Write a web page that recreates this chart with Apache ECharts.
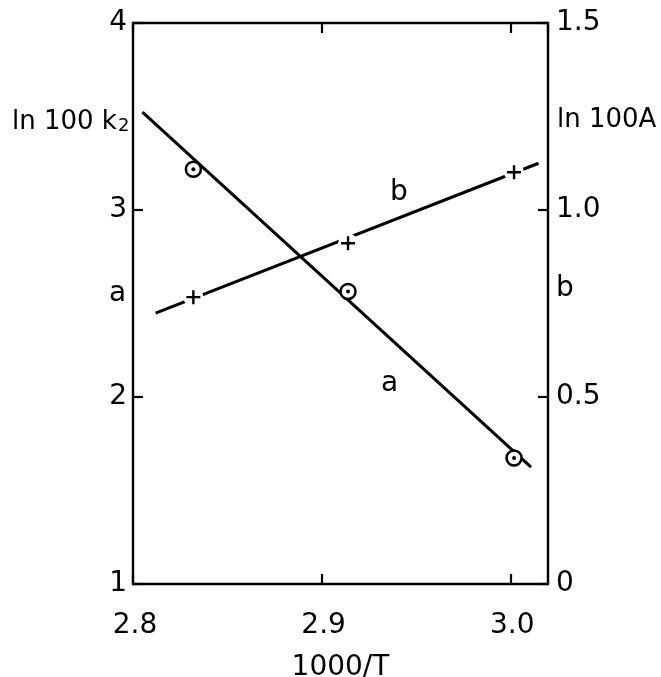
<!DOCTYPE html>
<html>
<head>
<meta charset="utf-8">
<script src="https://cdn.jsdelivr.net/npm/echarts@6/dist/echarts.min.js"></script>
<style>
  html, body { margin: 0; padding: 0; background: #fff; }
  #chart { width: 661px; height: 677px; }
</style>
</head>
<body>
<div id="chart"></div>
<script>
// Measured points: 1000/T against ln 100 k2 (curve a, left axis) and ln 100A (curve b, right axis)
const invT = [2.832, 2.914, 3.002];
const lnK2 = [3.218, 2.564, 1.674];
const lnA = [0.767, 0.911, 1.101];

// Straight-line fits drawn through each set
const fitAX = [2.805, 3.011];
const fitAY = [3.523, 1.625];
const fitBX = [2.812, 3.015];
const fitBY = [0.724, 1.125];

// Axis ranges
const xRange = [2.8, 3.02];
const leftRange = [1, 4];
const rightRange = [0, 1.5];

const FONT = 'DejaVu Sans';
const INK = '#000';
const SIZE = 28;

const pairs = (xs, ys) => xs.map((x, i) => [x, ys[i]]);

const chart = echarts.init(document.getElementById('chart'), null, { renderer: 'canvas' });

const tickStyle = { show: true, inside: true, length: 10, lineStyle: { color: INK, width: 2.2 } };
const lineStyle = { show: true, onZero: false, lineStyle: { color: INK, width: 2.4 } };

chart.setOption({
  backgroundColor: '#fff',
  animation: false,
  grid: { left: 133, top: 23, right: 113, bottom: 93, containLabel: false, outerBoundsMode: 'none' },
  xAxis: [
    {
      type: 'value', position: 'bottom', min: xRange[0], max: xRange[1], interval: 0.1,
      axisLine: lineStyle, axisTick: tickStyle, splitLine: { show: false },
      axisLabel: {
        margin: 28, showMaxLabel: false, color: INK, fontFamily: FONT, fontSize: SIZE,
        padding: [0, 0, 0, 4],
        formatter: v => v.toFixed(1)
      },
      name: '1000/T', nameLocation: 'middle', nameGap: 70,
      nameTextStyle: { color: INK, fontFamily: FONT, fontSize: SIZE }
    },
    {
      type: 'value', position: 'top', min: xRange[0], max: xRange[1], interval: 0.1,
      axisLine: lineStyle, axisTick: tickStyle, axisLabel: { show: false }, splitLine: { show: false }
    }
  ],
  yAxis: [
    {
      type: 'value', position: 'left', min: leftRange[0], max: leftRange[1], interval: 1,
      axisLine: lineStyle, axisTick: tickStyle, splitLine: { show: false },
      axisLabel: { margin: 6, color: INK, fontFamily: FONT, fontSize: SIZE, padding: [9, 0, 0, 0] }
    },
    {
      type: 'value', position: 'right', min: rightRange[0], max: rightRange[1], interval: 0.5,
      axisLine: lineStyle, axisTick: tickStyle, splitLine: { show: false },
      axisLabel: {
        margin: 8, color: INK, fontFamily: FONT, fontSize: SIZE, padding: [9, 0, 0, 0],
        formatter: v => (v === 0 ? '0' : v.toFixed(1))
      }
    }
  ],
  series: [
    {
      name: 'fit a', type: 'line', xAxisIndex: 0, yAxisIndex: 0, data: pairs(fitAX, fitAY),
      symbol: 'none', lineStyle: { color: INK, width: 3 }, z: 2
    },
    {
      name: 'fit b', type: 'line', xAxisIndex: 0, yAxisIndex: 1, data: pairs(fitBX, fitBY),
      symbol: 'none', lineStyle: { color: INK, width: 3 }, z: 2
    },
    {
      // small clearing behind each cross so the fitted line breaks around it
      name: 'b gap', type: 'scatter', xAxisIndex: 0, yAxisIndex: 1, data: pairs(invT, lnA),
      symbol: 'circle', symbolSize: 20, itemStyle: { color: '#fff', opacity: 1 }, z: 3, silent: true
    },
    {
      name: 'b', type: 'scatter', xAxisIndex: 0, yAxisIndex: 1, data: pairs(invT, lnA),
      symbol: 'path://M0,-10L0,10M-10,0L10,0', symbolSize: 14,
      itemStyle: { color: 'none', borderColor: INK, borderWidth: 2.4, opacity: 1 }, z: 4
    },
    {
      name: 'a', type: 'scatter', xAxisIndex: 0, yAxisIndex: 0, data: pairs(invT, lnK2),
      symbol: 'circle', symbolSize: 15,
      itemStyle: { color: '#fff', borderColor: INK, borderWidth: 2.5, opacity: 1 }, z: 4
    },
    {
      name: 'a centre', type: 'scatter', xAxisIndex: 0, yAxisIndex: 0, data: pairs(invT, lnK2),
      symbol: 'circle', symbolSize: 4, itemStyle: { color: INK, opacity: 1 }, z: 5
    }
  ],
  graphic: [
    {
      type: 'text', left: 12, top: 109,
      style: {
        text: '{m|ln 100 k}{s|2}', fill: INK,
        rich: {
          m: { fontFamily: FONT, fontSize: 26, fill: INK, verticalAlign: 'bottom' },
          s: { fontFamily: FONT, fontSize: 18, fill: INK, padding: [12, 0, 0, 1], verticalAlign: 'bottom' }
        }
      }
    },
    {
      type: 'text', left: 557, top: 107,
      style: { text: 'ln 100A', fontFamily: FONT, fontSize: 26, fill: INK }
    },
    { type: 'text', left: 109, top: 280, style: { text: 'a', fontFamily: FONT, fontSize: SIZE, fill: INK } },
    { type: 'text', left: 556, top: 275, style: { text: 'b', fontFamily: FONT, fontSize: SIZE, fill: INK } },
    { type: 'text', left: 390, top: 179, style: { text: 'b', fontFamily: FONT, fontSize: SIZE, fill: INK } },
    { type: 'text', left: 381, top: 370, style: { text: 'a', fontFamily: FONT, fontSize: SIZE, fill: INK } }
  ]
});
</script>
</body>
</html>
